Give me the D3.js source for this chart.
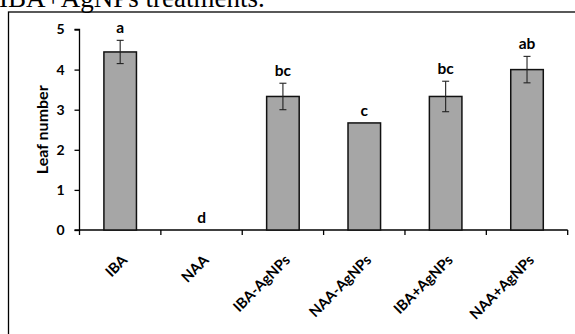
<!DOCTYPE html>
<html>
<head>
<meta charset="utf-8">
<script src="https://cdn.jsdelivr.net/npm/d3@7"></script>
<style>
  html, body { margin: 0; padding: 0; background: #fff; }
  svg { display: block; }
  .axis text { font-family: Lato, "Open Sans", sans-serif; font-weight: bold; fill: #000; }
</style>
</head>
<body>
<svg id="chart" width="575" height="334"></svg>
<script>
// Leaf number per rooting treatment
const treatments = ["IBA", "NAA", "IBA-AgNPs", "NAA-AgNPs", "IBA+AgNPs", "NAA+AgNPs"];
const leafMeans  = [4.44, 0, 3.33, 2.67, 3.33, 4.0];
const leafErrors = [0.29, 0, 0.33, 0, 0.38, 0.33];
const groupLetters = ["a", "d", "bc", "c", "bc", "ab"];
const yTicks = [0, 1, 2, 3, 4, 5];

const svg = d3.select("#chart");

// caption line above the figure frame
svg.append("text")
  .attr("x", -1).attr("y", 6.5)
  .attr("font-family", "'Liberation Serif', 'Times New Roman', serif")
  .attr("font-size", 27)
  .attr("fill", "#000")
  .text("IBA+AgNPs treatments.");

// figure frame
svg.append("rect")
  .attr("x", 8.5).attr("y", 12)
  .attr("width", 570).attr("height", 340)
  .attr("fill", "none").attr("stroke", "#000").attr("stroke-width", 1.3);

const plot = { left: 79.5, right: 567.7, top: 29.5, bottom: 230 };

const x = d3.scaleBand().domain(treatments).range([plot.left, plot.right]).paddingInner(0.6).paddingOuter(0.3);
const xb = d3.scaleBand().domain(treatments).range([plot.left, plot.right]);
const y = d3.scaleLinear().domain([0, 5]).range([plot.bottom, plot.top]);

// y axis
const yAxis = svg.append("g").attr("class", "axis")
  .attr("transform", `translate(${plot.left},0)`)
  .call(d3.axisLeft(y).tickValues(yTicks).tickSize(5).tickPadding(10).tickFormat(d3.format("d")));
yAxis.selectAll("text").attr("font-size", 14);
yAxis.selectAll("path, line").attr("stroke", "#000").attr("stroke-width", 1.3);
yAxis.select(".domain").attr("d", `M-5,${y(5)}H0V${y(0)}H-5`);

// x axis with ticks between categories
const xAxis = svg.append("g").attr("class", "axis")
  .attr("transform", `translate(0,${plot.bottom})`);
xAxis.append("line")
  .attr("x1", plot.left).attr("x2", plot.right)
  .attr("stroke", "#000").attr("stroke-width", 1.3);
const boundaries = treatments.map(t => xb(t)).concat([plot.right]);
xAxis.selectAll("line.tick").data(boundaries).join("line")
  .attr("class", "tick")
  .attr("x1", d => d).attr("x2", d => d)
  .attr("y1", 0).attr("y2", 5)
  .attr("stroke", "#000").attr("stroke-width", 1.3);
xAxis.selectAll("text").data(treatments).join("text")
  .attr("transform", d => `translate(${xb(d) + xb.bandwidth() / 2 + 8},${31}) rotate(-45)`)
  .attr("text-anchor", "end")
  .attr("font-size", 14.5)
  .text(d => d);

// y axis title
svg.append("text")
  .attr("transform", `translate(48,${(plot.top + plot.bottom) / 2}) rotate(-90)`)
  .attr("text-anchor", "middle")
  .attr("font-family", "Lato, 'Open Sans', sans-serif")
  .attr("font-weight", "bold")
  .attr("font-size", 16)
  .text("Leaf number");

const rows = treatments.map((t, i) => ({ t, v: leafMeans[i], e: leafErrors[i], g: groupLetters[i] }));

// bars
svg.append("g").selectAll("rect").data(rows.filter(d => d.v > 0)).join("rect")
  .attr("x", d => x(d.t)).attr("width", x.bandwidth())
  .attr("y", d => y(d.v)).attr("height", d => y(0) - y(d.v))
  .attr("fill", "#a6a6a6").attr("stroke", "#111").attr("stroke-width", 1.5);

// error bars
const eb = svg.append("g").attr("stroke", "#222").attr("stroke-width", 1.1);
rows.filter(d => d.e > 0).forEach(d => {
  const cx = x(d.t) + x.bandwidth() / 2;
  eb.append("line").attr("x1", cx).attr("x2", cx).attr("y1", y(d.v + d.e)).attr("y2", y(d.v - d.e));
  eb.append("line").attr("x1", cx - 3.5).attr("x2", cx + 3.5).attr("y1", y(d.v + d.e)).attr("y2", y(d.v + d.e));
  eb.append("line").attr("x1", cx - 3.5).attr("x2", cx + 3.5).attr("y1", y(d.v - d.e)).attr("y2", y(d.v - d.e));
});

// significance letters
svg.append("g").selectAll("text").data(rows).join("text")
  .attr("x", d => x(d.t) + x.bandwidth() / 2)
  .attr("y", d => y(d.v + d.e) - 7)
  .attr("text-anchor", "middle")
  .attr("font-family", "Lato, 'Open Sans', sans-serif")
  .attr("font-weight", "bold")
  .attr("font-size", 15.5)
  .text(d => d.g);
</script>
</body>
</html>
